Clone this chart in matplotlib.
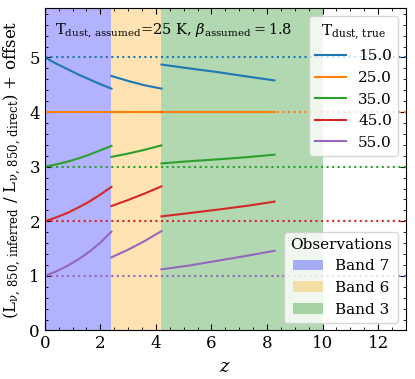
import numpy as np
import matplotlib.pyplot as plt
from matplotlib.ticker import MultipleLocator
from matplotlib.patches import Patch

plt.rcParams['font.family'] = 'DejaVu Serif'
plt.rcParams['mathtext.fontset'] = 'dejavuserif'

# redshift sampling of each ALMA band segment
z_b7 = [0.0, 0.4, 0.8, 1.2, 1.6, 2.0, 2.4]
z_b6 = [2.4, 3.0, 3.6, 4.2]
z_b3 = [4.2, 5.2, 6.25, 7.3, 8.27]

t_true = [15.0, 25.0, 35.0, 45.0, 55.0]
offsets = [4, 3, 2, 1, 0]
colors = ['#1f77b4', '#ff7f0e', '#2ca02c', '#d62728', '#9467bd']

# ratio + offset
ratio_b7 = [
    [5.00, 4.89, 4.79, 4.69, 4.60, 4.51, 4.43],
    [4.00, 4.00, 4.00, 4.00, 4.00, 4.00, 4.00],
    [3.00, 3.04, 3.09, 3.15, 3.22, 3.30, 3.38],
    [2.00, 2.07, 2.15, 2.25, 2.36, 2.49, 2.63],
    [1.00, 1.08, 1.18, 1.30, 1.44, 1.61, 1.81],
]
ratio_b6 = [
    [4.66, 4.57, 4.49, 4.43],
    [4.00, 4.00, 4.00, 4.00],
    [3.18, 3.24, 3.31, 3.39],
    [2.28, 2.39, 2.51, 2.64],
    [1.34, 1.48, 1.64, 1.82],
]
ratio_b3 = [
    [4.87, 4.80, 4.73, 4.65, 4.58],
    [4.00, 4.00, 4.00, 4.00, 4.00],
    [3.06, 3.10, 3.135, 3.175, 3.22],
    [2.09, 2.15, 2.215, 2.285, 2.36],
    [1.12, 1.19, 1.28, 1.37, 1.46],
]

bands = ['Band 7', 'Band 6', 'Band 3']
band_edges = [(0.0, 2.4), (2.4, 4.2), (4.2, 10.0)]
band_colors = ['blue', 'orange', 'green']

fig = plt.figure(figsize=(4.15, 3.79), dpi=100)
ax = fig.add_axes([0.108, 0.128, 0.870, 0.850])

for (lo, hi), c in zip(band_edges, band_colors):
    ax.axvspan(lo, hi, color=c, alpha=0.3, lw=0)

line_handles = []
for i in range(len(t_true)):
    ax.axhline(1 + offsets[i], color=colors[i], ls=':', lw=1.5)
    for zz, rr in ((z_b7, ratio_b7), (z_b6, ratio_b6), (z_b3, ratio_b3)):
        h, = ax.plot(zz, rr[i], color=colors[i], lw=1.5)
    line_handles.append(h)

ax.text(0.36, 5.42, r'$\mathrm{T_{dust,\,assumed}}$=25 K, $\beta_\mathrm{assumed}=1.8$', fontsize=10.5)

ax.set_xlim(0, 13)
ax.set_ylim(0, 5.9)
ax.xaxis.set_major_locator(MultipleLocator(2))
ax.xaxis.set_minor_locator(MultipleLocator(0.5))
ax.yaxis.set_major_locator(MultipleLocator(1))
ax.yaxis.set_minor_locator(MultipleLocator(0.2))
ax.tick_params(which='both', direction='in', top=True, right=True, labelsize=12)
ax.tick_params(which='major', length=4)
ax.tick_params(which='minor', length=2)
ax.set_yticks([0, 1, 2, 3, 4, 5])

ax.set_xlabel('$z$', fontsize=13)
ax.set_ylabel(r'$(\mathrm{L_{\nu,\,850,\,inferred}}$ / $\mathrm{L_{\nu,\,850,\,direct}})$ + offset', fontsize=12)

leg1 = ax.legend(line_handles, [str(t) for t in t_true], title=r'$\mathrm{T_{dust,\,true}}$',
                 loc='upper right', fontsize=11, title_fontsize=11)
ax.add_artist(leg1)
patches = [Patch(facecolor=c, alpha=0.3) for c in band_colors]
ax.legend(patches, bands, title='Observations', loc='lower right', fontsize=11, title_fontsize=11)

fig.savefig('out.png', dpi=100)
